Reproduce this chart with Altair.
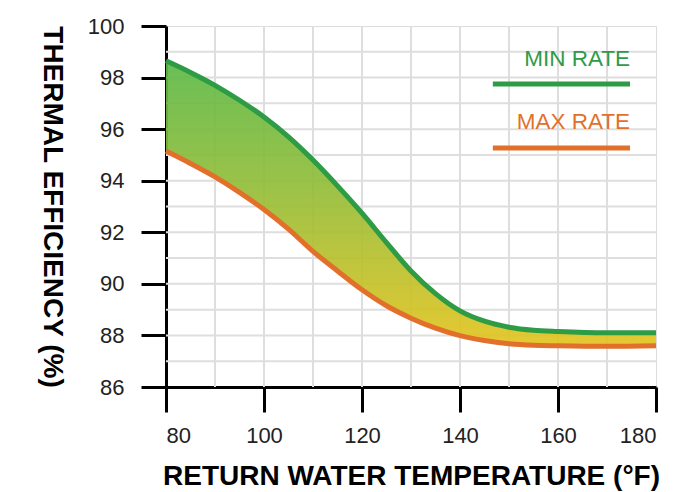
import altair as alt
import pandas as pd

temps = [80, 85, 90, 95, 100, 105, 110, 115, 120, 125, 130, 135, 140, 145, 150, 155, 160, 170, 180]
min_rate = [98.65, 98.2, 97.7, 97.12, 96.47, 95.7, 94.8, 93.8, 92.74, 91.6, 90.5, 89.62, 88.95, 88.55, 88.32, 88.2, 88.15, 88.1, 88.1]
max_rate = [95.15, 94.67, 94.15, 93.55, 92.88, 92.12, 91.26, 90.5, 89.77, 89.15, 88.67, 88.28, 87.99, 87.8, 87.68, 87.62, 87.6, 87.58, 87.6]

x_grid = [90, 100, 110, 120, 130, 140, 150, 160, 170]
y_grid = [87, 88, 89, 90, 91, 92, 93, 94, 95, 96, 97, 98, 99]
x_ticks = [80, 100, 120, 140, 160, 180]
y_ticks = [86, 88, 90, 92, 94, 96, 98, 100]

legend_labels = ["MIN RATE", "MAX RATE"]
legend_colors = ["#2e9b45", "#e2702a"]
legend_text_y = [98.25, 95.8]
legend_line_y = [97.75, 95.27]
legend_x1 = [146.7, 146.7]
legend_x2 = [174.7, 174.7]

df = pd.DataFrame({"t": temps, "mn": min_rate, "mx": max_rate})
gx = pd.DataFrame({"g": x_grid})
gy = pd.DataFrame({"g": y_grid})
leg = pd.DataFrame({"label": legend_labels, "color": legend_colors,
                    "ty": legend_text_y, "ly": legend_line_y,
                    "x1": legend_x1, "x2": legend_x2})

FONT = "Liberation Sans"
xs = alt.Scale(domain=[80, 180], nice=False, zero=False)
ys = alt.Scale(domain=[86, 100], nice=False, zero=False)

xaxis = alt.Axis(values=x_ticks, grid=False, tickSize=25, tickWidth=3, tickColor="black",
                 domainColor="black", domainWidth=3, labelFontSize=22, labelFont=FONT,
                 labelColor="#222", labelPadding=13, title="RETURN WATER TEMPERATURE (°F)",
                 titleFont=FONT, titleFontSize=28, titleFontWeight="bold", titleColor="black",
                 titlePadding=16)
yaxis = alt.Axis(values=y_ticks, grid=False, tickSize=25, tickWidth=3, tickColor="black",
                 domainColor="black", domainWidth=3, labelFontSize=22, labelFont=FONT,
                 labelColor="#222", labelPadding=17, title="THERMAL EFFICIENCY (%)",
                 titleFont=FONT, titleFontSize=28, titleFontWeight="bold", titleColor="black",
                 titleAngle=90, titleBaseline="top", titlePadding=22)

base = alt.Chart(df)

vgrid = alt.Chart(gx).mark_rule(color="#dedede", strokeWidth=2).encode(x=alt.X("g:Q", scale=xs, axis=xaxis))
hgrid = alt.Chart(gy).mark_rule(color="#dedede", strokeWidth=2).encode(y=alt.Y("g:Q", scale=ys, axis=yaxis))

area = base.mark_area(
    opacity=0.92,
    interpolate="monotone",
    color=alt.Gradient(gradient="linear",
                       stops=[alt.GradientStop(color="#5cb947", offset=0),
                              alt.GradientStop(color="#94bd38", offset=0.45),
                              alt.GradientStop(color="#e4c41f", offset=1)],
                       x1=0, x2=0, y1=0, y2=1),
).encode(x=alt.X("t:Q", scale=xs), y=alt.Y("mn:Q", scale=ys), y2="mx:Q")

line_min = base.mark_line(color="#2e9b45", strokeWidth=5, interpolate="monotone").encode(
    x=alt.X("t:Q", scale=xs), y=alt.Y("mn:Q", scale=ys))
line_max = base.mark_line(color="#e2702a", strokeWidth=5, interpolate="monotone").encode(
    x=alt.X("t:Q", scale=xs), y=alt.Y("mx:Q", scale=ys))

leg_text = alt.Chart(leg).mark_text(align="right", baseline="bottom", fontSize=22.5, font=FONT).encode(
    x=alt.X("x2:Q", scale=xs), y=alt.Y("ty:Q", scale=ys), text="label:N",
    color=alt.Color("color:N", scale=None))
leg_line = alt.Chart(leg).mark_rule(strokeWidth=5).encode(
    x=alt.X("x1:Q", scale=xs), x2="x2:Q", y=alt.Y("ly:Q", scale=ys),
    color=alt.Color("color:N", scale=None))

chart = alt.layer(vgrid, hgrid, area, line_min, line_max, leg_line, leg_text).properties(
    width=490, height=361, padding={"left": 29, "top": 7, "right": 5, "bottom": 5}
).configure_view(stroke="black", strokeWidth=3).configure(background="white")

chart.save("out.html", embed_options={"renderer": "svg", "actions": False})
